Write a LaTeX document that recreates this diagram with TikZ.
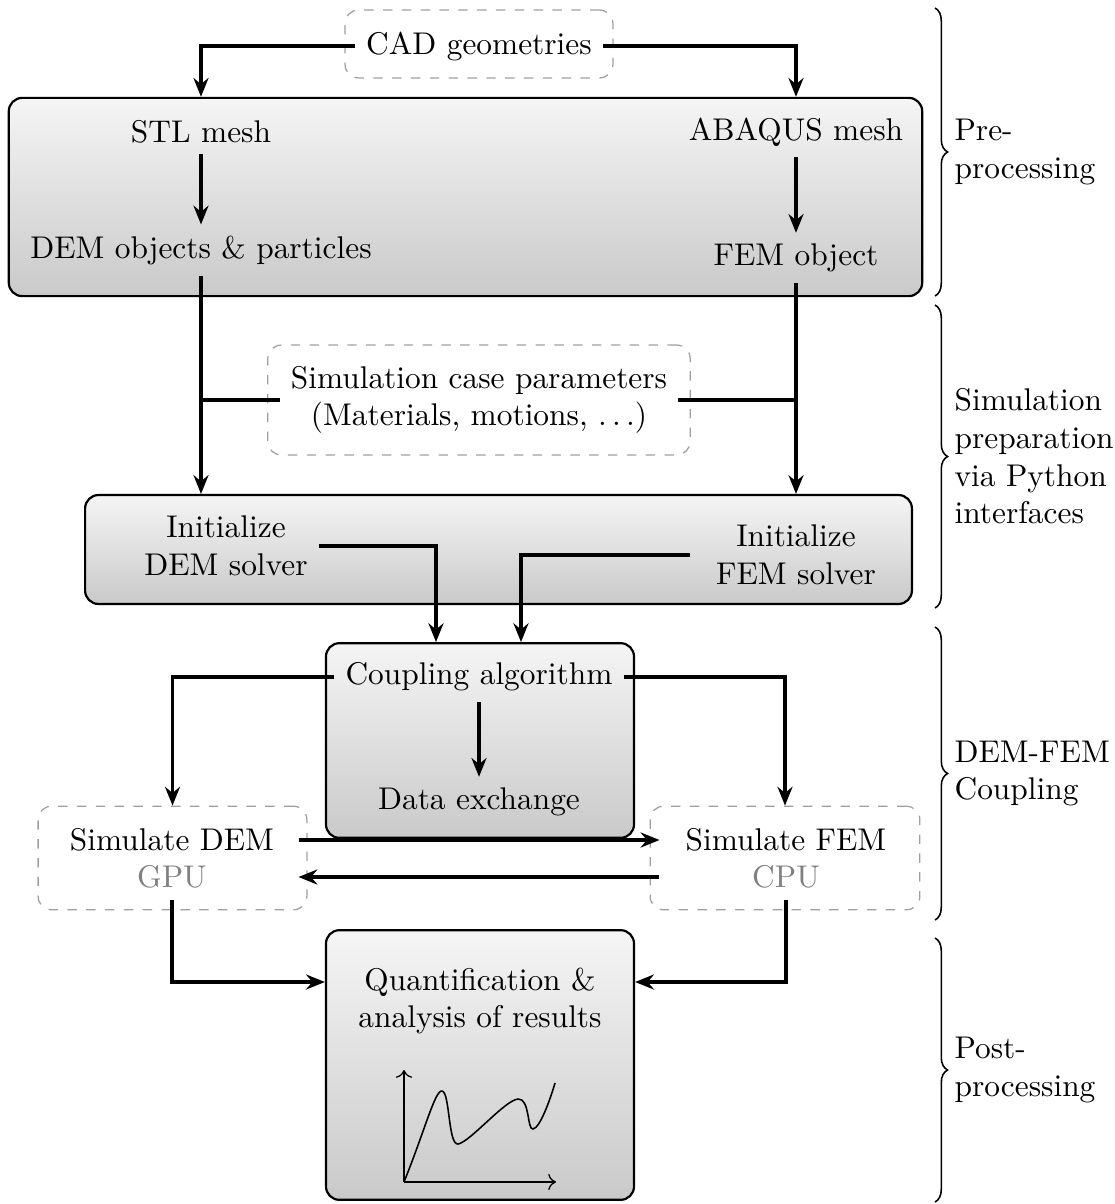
\documentclass[tikz,border=0pt]{standalone}
\usepackage{tikz}
\usetikzlibrary{arrows.meta,calc,decorations.pathreplacing,positioning}
\tikzset{
  stage/.style={
    draw,
    line width = 0.7pt,
    rounded corners = 0.15cm,
    top color = gray!8,
    bottom color = gray!42,
    inner sep = 0
  },
  dashbox/.style={
    draw = gray!75,
    dashed,
    rounded corners = 0.15cm,
    inner sep = 0
  },
  flow/.style={
    line width = 1.1pt,
    -{Stealth[length=6pt,width=4.8pt,inset=2pt]}
  },
  link/.style={
    line width = 1.1pt
  },
  phase/.style={
    anchor = west,
    align = left,
    inner sep = 1pt,
    xshift = 5pt
  },
  bracket/.style={
    decorate,
    decoration = {brace, amplitude=4pt},
    line width = 0.5pt
  }
}
\begin{document}
\begin{tikzpicture}[x=0.0112cm, y=-0.0112cm]
    \useasboundingbox (0,0) rectangle (1115,1204);
    \def\wsim{2.82cm}
    \node[stage, minimum width=10.23cm, minimum height=2.22cm] (pre) at (465.5,197) {};
    \node[stage, minimum width=9.26cm, minimum height=1.22cm] (init) at (498.5,549.5) {};
    \node[stage, minimum width=3.45cm, minimum height=2.18cm] (coup) at (480,740.5) {};
    \node[stage, minimum width=3.45cm, minimum height=3.02cm] (quant) at (480,1065) {};
    \node[dashbox, minimum width=3.0cm, minimum height=0.76cm] (cadbox) at (479,44) {};
    \node[dashbox, minimum width=4.73cm, minimum height=1.23cm] (parbox) at (479,400) {};
    \node[dashbox, minimum width=3.01cm, minimum height=1.16cm] (dembox) at (172.5,858) {};
    \node[dashbox, minimum width=3.02cm, minimum height=1.16cm] (fembox) at (785,858) {};
    \node (cad) at (479,46) {CAD geometries};
    \node (stl) at (201,132) {STL mesh};
    \node (abaqus) at (796,132) {ABAQUS mesh};
    \node (demobj) at (201,250) {DEM objects \& particles};
    \node (femobj) at (796,258) {FEM object};
    \node[align=center] (par) at (479,400) {Simulation case parameters\\(Materials, motions, $\ldots$)};
    \node[align=center, minimum width=1.77cm] (initdem) at (226,546) {Initialize\\DEM solver};
    \node[align=center, minimum width=2.37cm] (initfem) at (796,555) {Initialize\\FEM solver};
    \node (coupalg) at (479,677) {Coupling algorithm};
    \node (dataex) at (479,802) {Data exchange};
    \node[minimum width=\wsim] (demsim) at (172,840) {Simulate DEM};
    \node[minimum width=\wsim, text=gray] (gpu) at (172,877) {GPU};
    \node[minimum width=\wsim] (femsim) at (786,840) {Simulate FEM};
    \node[minimum width=\wsim, text=gray] (cpu) at (786,877) {CPU};
    \node (qtitle) at (480,982) {Quantification \&};
    \node (qsub) at (480,1020) {analysis of results};
    \draw[flow] (cad.west) -| (pre.north -| stl);
    \draw[flow] (cad.east) -| (pre.north -| abaqus);
    \draw[flow] (stl) -- (demobj);
    \draw[flow] (abaqus) -- (femobj);
    \draw[flow] (demobj) -- (init.north -| demobj);
    \draw[flow] (femobj) -- (init.north -| femobj);
    \draw[link] (par.west) -- (par.west -| demobj);
    \draw[link] (par.east) -- (par.east -| femobj);
    \draw[flow] (initdem.east) -| ($(coup.north)+(-44,0)$);
    \draw[flow] (initfem.west) -| ($(coup.north)+(41,0)$);
    \draw[flow] (coupalg) -- (dataex);
    \draw[flow] (coupalg.west) -| (dembox.north);
    \draw[flow] (coupalg.east) -| (fembox.north);
    \draw[flow] (demsim.east) -- (femsim.west);
    \draw[flow] (cpu.west) -- (gpu.east);
    \draw[flow] (gpu.south) |- (quant.west |- qtitle);
    \draw[flow] (cpu.south) |- (quant.east |- qtitle);
    \coordinate (orig) at (404,1182);
    \draw[->, line width=0.4pt] (orig) -- (404,1070);
    \draw[->, line width=0.4pt] (orig) -- (556,1182);
    \draw[line width=0.5pt] (orig) .. controls (425,1130) and (435,1090) .. (442,1091)
        .. controls (450,1092) and (448,1145) .. (458,1144)
        .. controls (470,1142) and (505,1100) .. (518,1099)
        .. controls (530,1098) and (527,1130) .. (533,1129)
        .. controls (540,1128) and (550,1100) .. (555,1083);
    \draw[bracket] (935,8) -- node[phase] (lpre) {Pre-\\processing} (935,296);
    \draw[bracket] (935,305) -- node[phase] (lprep) {Simulation\\preparation\\via Python\\interfaces} (935,608);
    \draw[bracket] (935,627) -- node[phase] (lcoup) {DEM-FEM\\Coupling} (935,920);
    \draw[bracket] (935,938) -- node[phase] (lpost) {Post-\\processing} (935,1202);
\end{tikzpicture}
\end{document}
